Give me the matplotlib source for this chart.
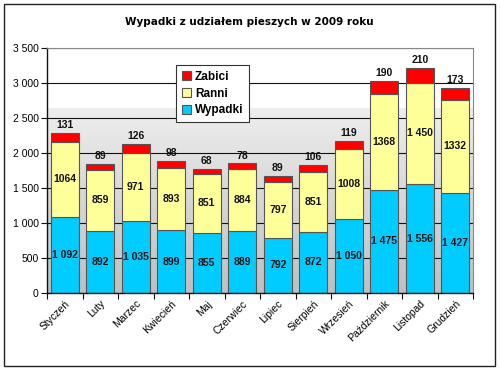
import matplotlib
matplotlib.use("Agg")
import matplotlib.pyplot as plt
import numpy as np
from matplotlib.patches import Rectangle

# dane z wykresu
miesiace = ['Styczeń', 'Luty', 'Marzec', 'Kwiecień', 'Maj', 'Czerwiec', 'Lipiec',
            'Sierpień', 'Wrzesień', 'Październik', 'Listopad', 'Grudzień']
wypadki = [1092, 892, 1035, 899, 855, 889, 792, 872, 1050, 1475, 1556, 1427]
ranni = [1064, 859, 971, 893, 851, 884, 797, 851, 1008, 1368, 1450, 1332]
zabici = [131, 89, 126, 98, 68, 78, 89, 106, 119, 190, 210, 173]
y_ticks = [0, 500, 1000, 1500, 2000, 2500, 3000, 3500]


def fmt(v):
    # separator tysięcy jak w Excelu (spacja)
    return f'{v:,}'.replace(',', ' ')


plt.rcParams['font.family'] = ['Liberation Sans', 'DejaVu Sans']

fig = plt.figure(figsize=(5.0, 3.69), dpi=100)
fig.patch.set_facecolor('white')
# ramka wokół całego wykresu
fig.patches.append(Rectangle((0.008, 0.008), 0.982, 0.982, transform=fig.transFigure,
                             fill=False, edgecolor='#222222', linewidth=1.0))

ax = fig.add_axes([0.094, 0.206, 0.852, 0.664])
x = np.arange(len(miesiace))
w = 0.79

ax.set_xlim(-0.5, len(miesiace) - 0.5)
ax.set_ylim(0, 3500)

# tło z gradientem (białe u góry, szare na dole)
grad = np.linspace(0.75, 0.93, 256).reshape(-1, 1)
ax.imshow(grad, extent=(-0.5, len(miesiace) - 0.5, 0, 2640), origin='lower',
          cmap='gray', vmin=0, vmax=1, aspect='auto', zorder=0)

ax.set_yticks(y_ticks)
ax.set_yticklabels([fmt(v) for v in y_ticks], fontsize=7.5)
ax.yaxis.grid(True, color='#111111', linewidth=0.8)
ax.set_axisbelow(True)

edge = '#555555'
b1 = ax.bar(x, wypadki, w, color='#00CCFF', edgecolor=edge, linewidth=0.8, zorder=2)
b2 = ax.bar(x, ranni, w, bottom=wypadki, color='#FFFF99', edgecolor=edge, linewidth=0.8,
            zorder=2)
bottom3 = [a + b for a, b in zip(wypadki, ranni)]
b3 = ax.bar(x, zabici, w, bottom=bottom3, color='#FF0000', edgecolor=edge, linewidth=0.8,
            zorder=2)

for i in range(len(miesiace)):
    ax.text(x[i], wypadki[i] / 2, fmt(wypadki[i]), ha='center', va='center',
            fontsize=7.5, fontweight='bold', color='#111111', zorder=3)
    lab = fmt(ranni[i]) if ranni[i] == 1450 else str(ranni[i])
    ax.text(x[i], wypadki[i] + ranni[i] / 2, lab, ha='center', va='center',
            fontsize=7.5, fontweight='bold', color='#111111', zorder=3)
    ax.text(x[i], bottom3[i] + zabici[i] + 40, str(zabici[i]), ha='center', va='bottom',
            fontsize=7.5, fontweight='bold', color='#111111', zorder=3)

# oś X: kreski na granicach kategorii, podpisy pod środkami słupków
ax.set_xticks(np.arange(-0.5, len(miesiace), 1.0))
ax.set_xticklabels([])
ax.set_xticks(x, minor=True)
ax.set_xticklabels(miesiace, minor=True, rotation=45, ha='right', rotation_mode='anchor',
                   fontsize=7.5)
ax.tick_params(axis='x', which='minor', length=0, pad=4)
ax.tick_params(axis='x', which='major', length=4, direction='out', color='#111111')
ax.tick_params(axis='y', length=4, direction='out', color='#111111', pad=2)

for s in ['top', 'right']:
    ax.spines[s].set_color('#888888')
    ax.spines[s].set_linewidth(0.8)
for s in ['left', 'bottom']:
    ax.spines[s].set_color('#111111')
    ax.spines[s].set_linewidth(1.0)

leg = ax.legend([b3, b2, b1], ['Zabici', 'Ranni', 'Wypadki'], loc='upper left',
                bbox_to_anchor=(0.303, 0.931), borderaxespad=0, fancybox=False,
                framealpha=1, edgecolor='#333333', fontsize=8.5, handlelength=0.8,
                handleheight=0.8, handletextpad=0.3, labelspacing=0.4, borderpad=0.5)
leg.get_frame().set_linewidth(0.8)
leg.set_zorder(5)
for t in leg.get_texts():
    t.set_fontweight('bold')

fig.text(0.498, 0.94, 'Wypadki z udziałem pieszych w 2009 roku', ha='center', va='center',
         fontsize=7.5, fontweight='bold', family='DejaVu Sans')

fig.savefig('out.png', dpi=100)
